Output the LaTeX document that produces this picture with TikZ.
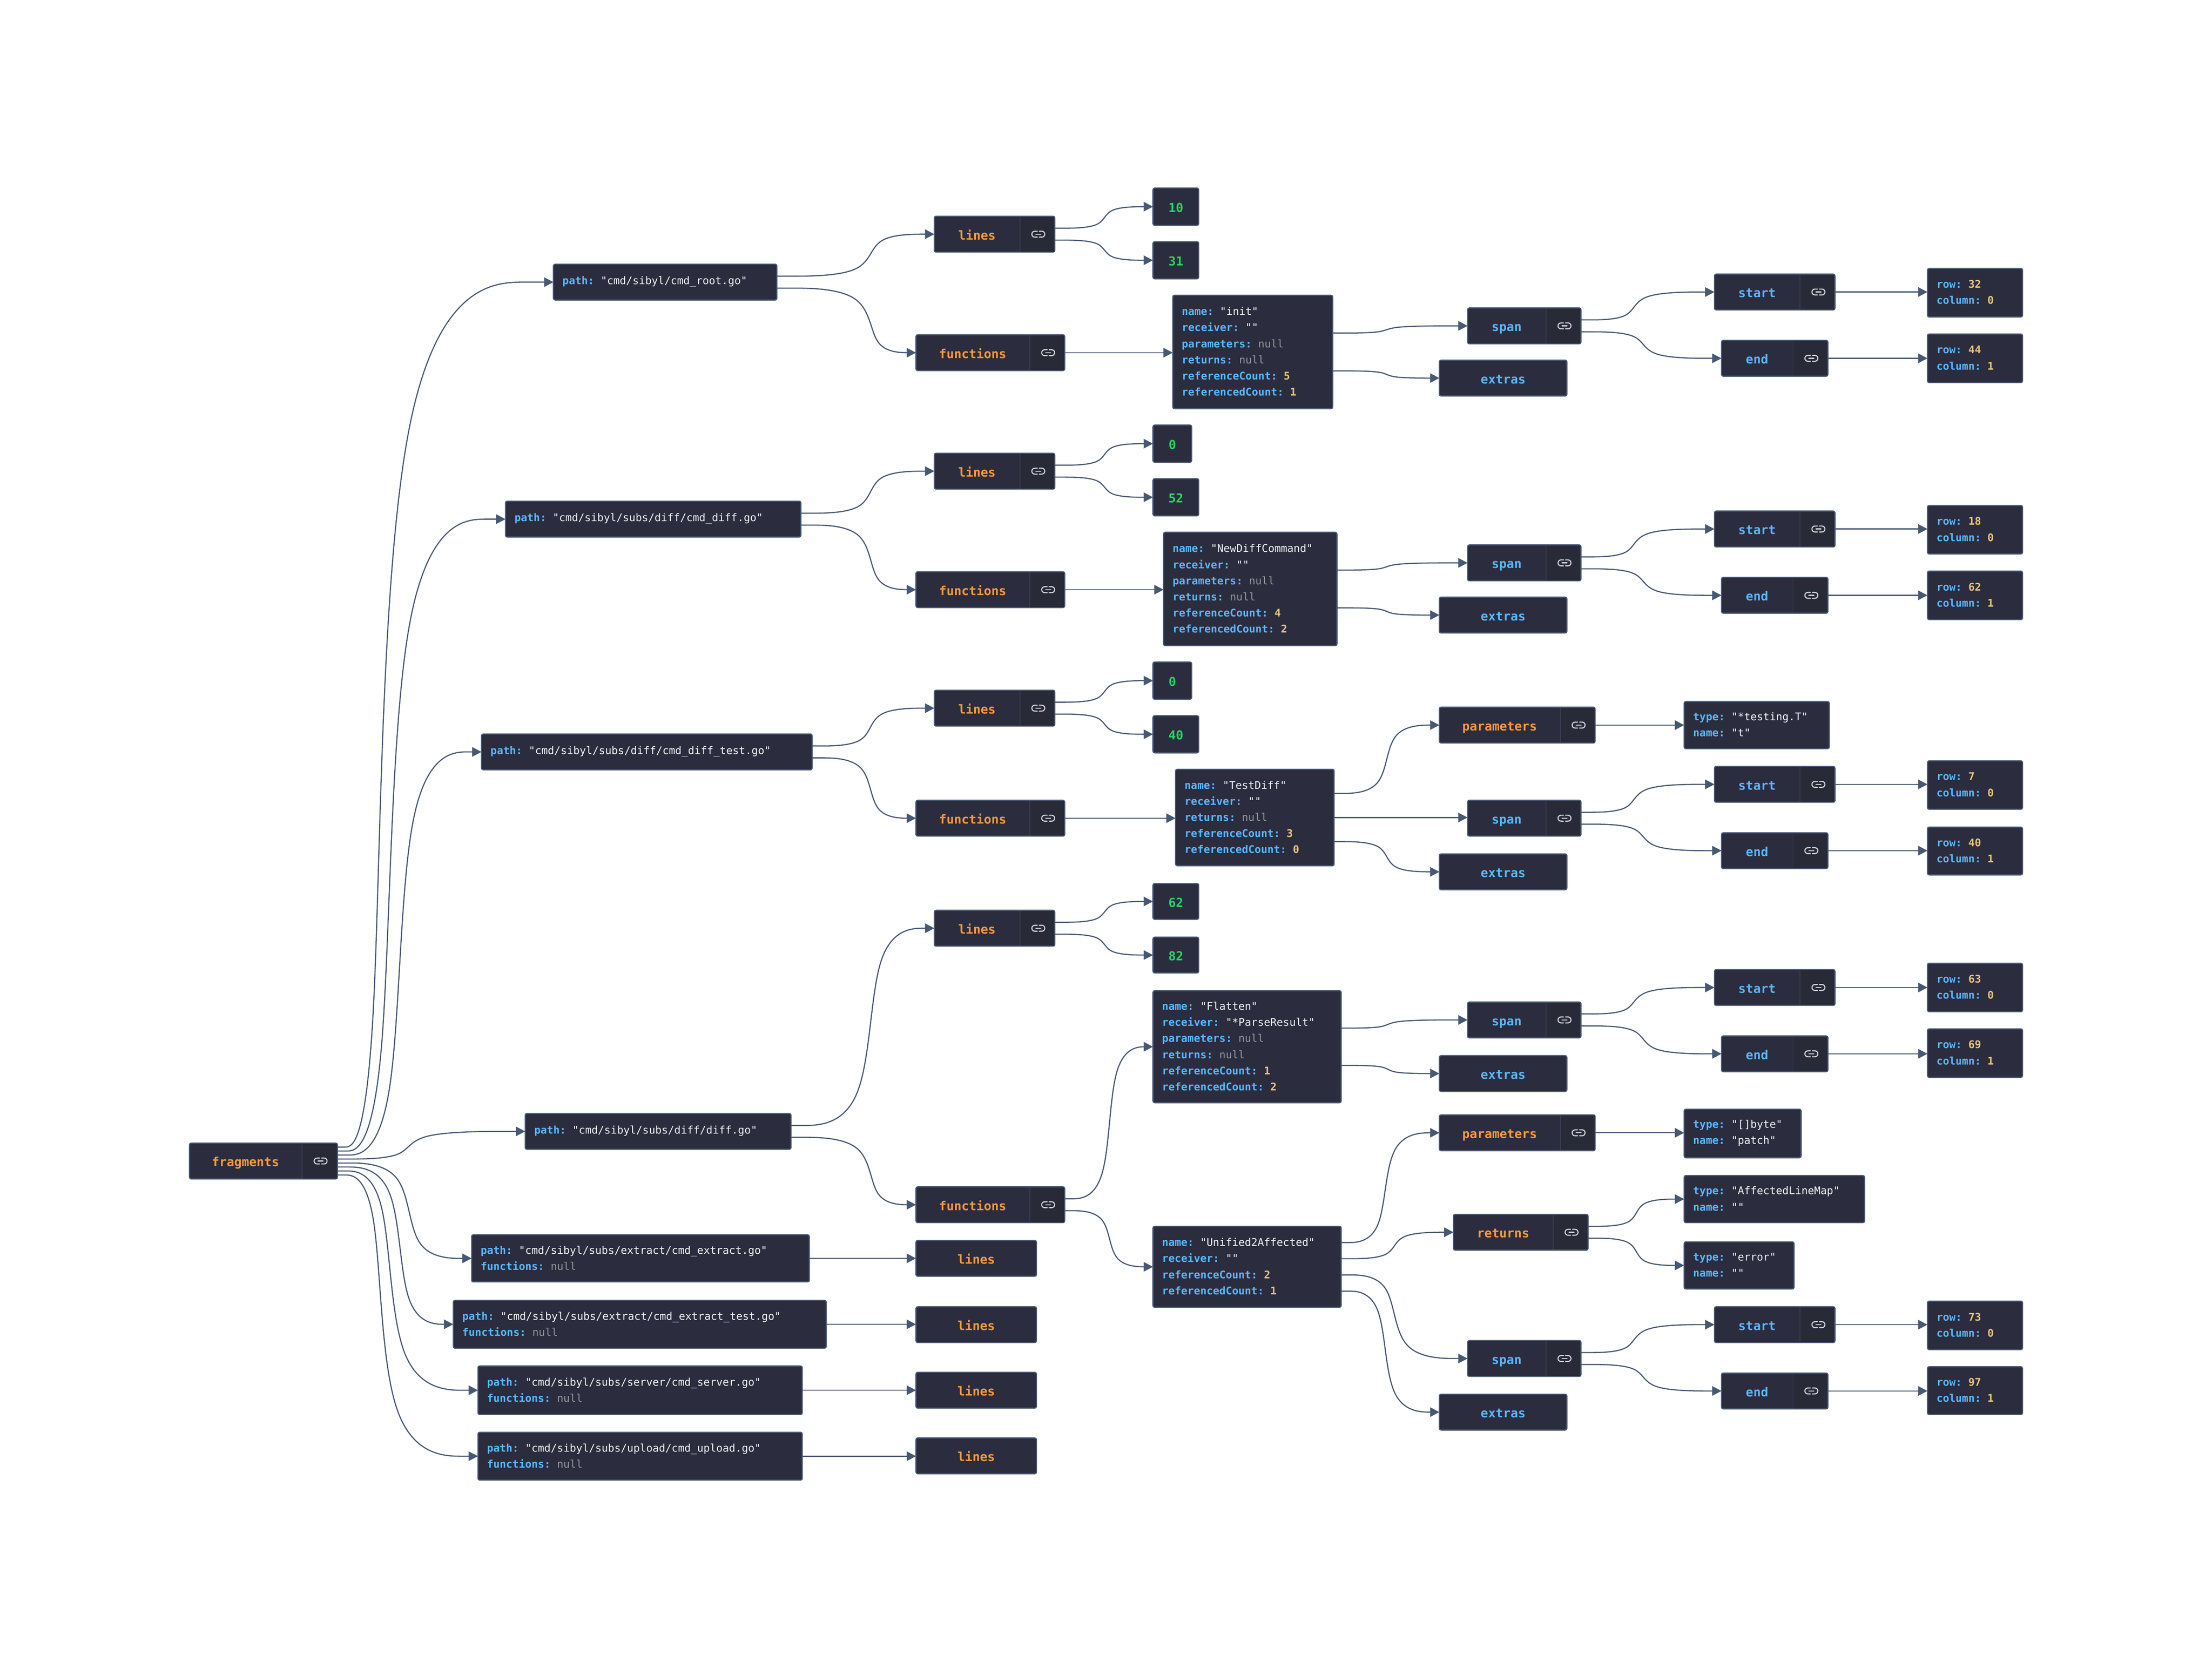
\documentclass[tikz,border=0pt]{standalone}
\usepackage{fontspec}
\setmonofont{DejaVu Sans Mono}
\usetikzlibrary{arrows.meta,calc}
\definecolor{nodefill}{HTML}{2B2C3E}
\definecolor{linkfill}{HTML}{292A38}
\definecolor{divcol}{HTML}{3A3C4E}
\definecolor{bordercol}{HTML}{475872}
\definecolor{edgecol}{HTML}{475872}
\definecolor{keycol}{HTML}{59B8FF}
\definecolor{orangecol}{HTML}{FA9A3A}
\definecolor{strcol}{HTML}{F2F2F2}
\definecolor{nullcol}{HTML}{939598}
\definecolor{numcol}{HTML}{E8C479}
\definecolor{greencol}{HTML}{22D65F}
\definecolor{iconcol}{HTML}{D4D4D8}
\tikzset{
  nodebox/.style={draw=bordercol,fill=nodefill,line width=.8pt,rounded corners=1.2pt,inner sep=0pt,outer sep=0pt},
  edgeline/.style={draw=edgecol,line width=.8pt,-{Triangle[length=6.6pt,width=6.7pt]}},
  bigtext/.style={font=\ttfamily\fontsize{8.8}{11.4}\selectfont\bfseries,inner sep=0pt},
  smalltext/.style={font=\ttfamily\fontsize{7.5}{11.4}\selectfont,align=left,inner sep=0pt,anchor=west},
  iconline/.style={draw=iconcol,line width=.75pt,line cap=round},
}
\newcommand{\K}[1]{\textcolor{keycol}{\bfseries #1}}
\newcommand{\Sv}[1]{\textcolor{strcol}{#1}}
\newcommand{\Nl}{\textcolor{nullcol}{null}}
\newcommand{\Nm}[1]{\textcolor{numcol}{\bfseries #1}}
\newcommand{\bx}[5]{%
  \pgfmathsetmacro\bxW{#4-#2-.6}\pgfmathsetmacro\bxH{#5-#3-.6}%
  \pgfmathsetmacro\bxX{(#2+#4)/2}\pgfmathsetmacro\bxY{(#3+#5)/2}%
  \node[nodebox,minimum width=\bxW pt,minimum height=\bxH pt] (#1) at (\bxX,\bxY) {};}
% text box: name x0 y0 x1 y1 multi-line text
\newcommand{\tb}[6]{%
  \bx{#1}{#2}{#3}{#4}{#5}%
  \pgfmathsetmacro\tbX{#2+6.5}\pgfmathsetmacro\tbY{(#3+#5)/2-0.3}%
  \node[smalltext] (#1t) at (\tbX,\tbY) {#6};}
% label box with link section: name x0 y0 x1 y1 xdiv text colour
\newcommand{\lb}[8]{%
  \bx{#1}{#2}{#3}{#4}{#5}%
  \fill[linkfill] (#6,#3+.7) rectangle (#4-.7,#5-.7);
  \draw[divcol,line width=.5pt] (#6,#3+.7) -- (#6,#5-.7);
  \pgfmathsetmacro\lbX{(#2+#6)/2}\pgfmathsetmacro\lbY{(#3+#5)/2+1.6}%
  \node[bigtext,text=#8] (#1t) at (\lbX,\lbY) {\strut #7};
  \pgfmathsetmacro\icX{(#6+#4)/2+.5}\pgfmathsetmacro\icY{(#3+#5)/2}%
  \begin{scope}[shift={(\icX,\icY)}]
    \draw[iconline] (-.7,2.1) -- (-2.5,2.1) arc[start angle=90,end angle=270,radius=2.1] -- (-.7,-2.1);
    \draw[iconline] (.7,2.1) -- (2.5,2.1) arc[start angle=90,end angle=-90,radius=2.1] -- (.7,-2.1);
    \draw[iconline] (-1.8,0) -- (1.8,0);
  \end{scope}}
% plain box with a centred label: name x0 y0 x1 y1 text colour
\newcommand{\pb}[7]{%
  \bx{#1}{#2}{#3}{#4}{#5}%
  \pgfmathsetmacro\lbX{(#2+#4)/2}\pgfmathsetmacro\lbY{(#3+#5)/2+1.6}%
  \node[bigtext,text=#7] (#1t) at (\lbX,\lbY) {\strut #6};}
% connector (basis spline through a bend column): bend x, from, i, n, to
\newcommand{\conn}[5]{%
  \draw[edgeline] let \p1=($(#2.north east)!{#3/(#4+1)}!(#2.south east)$), \p2=(#5.west) in
    (\p1) -- ({(5*\x1+#1pt)/6},\y1)
    .. controls ({(2*\x1+#1pt)/3},\y1) and ({(\x1+2*#1pt)/3},\y1) .. ({(\x1+5*#1pt)/6},{(5*\y1+\y2)/6})
    .. controls (#1pt,{(2*\y1+\y2)/3}) and (#1pt,{(\y1+2*\y2)/3}) .. ({(5*#1pt+\x2)/6},{(\y1+5*\y2)/6})
    .. controls ({(2*#1pt+\x2)/3},\y2) and ({(#1pt+2*\x2)/3},\y2) .. ({(#1pt+5*\x2)/6},\y2) -- (\p2);}
\newcommand{\straight}[2]{%
  \draw[edgeline] (#1.east) -- (#1.east -| #2.west);}
\begin{document}
\begin{tikzpicture}[x=1pt,y=-1pt]
\useasboundingbox[fill=white] (0,0) rectangle (1568,1182.8);

\lb{frag}{134}{810}{239.5}{836}{214}{fragments}{orangecol}

% ---------- row 1
\tb{pa}{392}{187}{551}{213}{\K{path:} \Sv{"cmd/sibyl/cmd\_root.go"}}
\lb{la}{662}{153}{748}{179}{723}{lines}{orangecol}
\pb{la1}{817}{133}{850}{160}{10}{greencol}
\pb{la2}{817}{171}{850}{198}{31}{greencol}
\lb{fa}{649}{237}{755}{263}{730}{functions}{orangecol}
\tb{oa}{831}{209}{945}{290}{\K{name:} \Sv{"init"}\\\K{receiver:} \Sv{""}\\\K{parameters:} \Nl\\\K{returns:} \Nl\\\K{referenceCount:} \Nm{5}\\\K{referencedCount:} \Nm{1}}
\lb{sa}{1040}{218}{1121}{244}{1096}{span}{keycol}
\pb{ea}{1020}{255}{1111}{281}{extras}{keycol}
\lb{sta}{1215}{194}{1301}{220}{1276}{start}{keycol}
\lb{ena}{1220}{241}{1296}{267}{1271}{end}{keycol}
\tb{ra}{1366}{190}{1434}{225}{\K{row:} \Nm{32}\\\K{column:} \Nm{0}}
\tb{rb}{1366}{236.5}{1434}{271.5}{\K{row:} \Nm{44}\\\K{column:} \Nm{1}}

% ---------- row 2
\tb{pb}{358}{355}{568}{381}{\K{path:} \Sv{"cmd/sibyl/subs/diff/cmd\_diff.go"}}
\lb{lb}{662}{321}{748}{347}{723}{lines}{orangecol}
\pb{lb1}{817}{301}{845}{328}{0}{greencol}
\pb{lb2}{817}{339}{850}{366}{52}{greencol}
\lb{fb}{649}{405}{755}{431}{730}{functions}{orangecol}
\tb{ob}{824.5}{377}{948}{458}{\K{name:} \Sv{"NewDiffCommand"}\\\K{receiver:} \Sv{""}\\\K{parameters:} \Nl\\\K{returns:} \Nl\\\K{referenceCount:} \Nm{4}\\\K{referencedCount:} \Nm{2}}
\lb{sb}{1040}{386}{1121}{412}{1096}{span}{keycol}
\pb{eb}{1020}{423}{1111}{449}{extras}{keycol}
\lb{stb}{1215}{362}{1301}{388}{1276}{start}{keycol}
\lb{enb}{1220}{409}{1296}{435}{1271}{end}{keycol}
\tb{rc}{1366}{358}{1434}{393}{\K{row:} \Nm{18}\\\K{column:} \Nm{0}}
\tb{rd}{1366}{404.5}{1434}{439.5}{\K{row:} \Nm{62}\\\K{column:} \Nm{1}}

% ---------- row 3
\tb{pc}{341}{520}{576}{546}{\K{path:} \Sv{"cmd/sibyl/subs/diff/cmd\_diff\_test.go"}}
\lb{lc}{662}{489}{748}{515}{723}{lines}{orangecol}
\pb{lc1}{817}{469}{845}{496}{0}{greencol}
\pb{lc2}{817}{507}{850}{534}{40}{greencol}
\lb{fc}{649}{567}{755}{593}{730}{functions}{orangecol}
\tb{oc}{833}{545}{946}{614}{\K{name:} \Sv{"TestDiff"}\\\K{receiver:} \Sv{""}\\\K{returns:} \Nl\\\K{referenceCount:} \Nm{3}\\\K{referencedCount:} \Nm{0}}
\lb{qc}{1020}{501}{1131}{527}{1106}{parameters}{orangecol}
\tb{tc}{1193.5}{497}{1297}{531}{\K{type:} \Sv{"*testing.T"}\\\K{name:} \Sv{"t"}}
\lb{sc}{1040}{567}{1121}{593}{1096}{span}{keycol}
\pb{ec}{1020}{605}{1111}{631}{extras}{keycol}
\lb{stc}{1215}{543}{1301}{569}{1276}{start}{keycol}
\lb{enc}{1220}{590}{1296}{616}{1271}{end}{keycol}
\tb{re}{1366}{539}{1434}{574}{\K{row:} \Nm{7}\\\K{column:} \Nm{0}}
\tb{rf}{1366}{586}{1434}{620.5}{\K{row:} \Nm{40}\\\K{column:} \Nm{1}}

% ---------- row 4
\tb{pd}{372}{789}{561}{815}{\K{path:} \Sv{"cmd/sibyl/subs/diff/diff.go"}}
\lb{ld}{662}{645}{748}{671}{723}{lines}{orangecol}
\pb{ld1}{817}{626}{850}{652}{62}{greencol}
\pb{ld2}{817}{664}{850}{690}{82}{greencol}
\lb{fd}{649}{841}{755}{867}{730}{functions}{orangecol}
\tb{od}{817}{702}{951}{782}{\K{name:} \Sv{"Flatten"}\\\K{receiver:} \Sv{"*ParseResult"}\\\K{parameters:} \Nl\\\K{returns:} \Nl\\\K{referenceCount:} \Nm{1}\\\K{referencedCount:} \Nm{2}}
\lb{sd}{1040}{710}{1121}{736}{1096}{span}{keycol}
\pb{ed}{1020}{748}{1111}{774}{extras}{keycol}
\lb{std}{1215}{687}{1301}{713}{1276}{start}{keycol}
\lb{end}{1220}{734}{1296}{760}{1271}{end}{keycol}
\tb{rg}{1366}{682.5}{1434}{717.5}{\K{row:} \Nm{63}\\\K{column:} \Nm{0}}
\tb{rh}{1366}{729}{1434}{764}{\K{row:} \Nm{69}\\\K{column:} \Nm{1}}

\tb{ou}{817}{869}{951}{927}{\K{name:} \Sv{"Unified2Affected"}\\\K{receiver:} \Sv{""}\\\K{referenceCount:} \Nm{2}\\\K{referencedCount:} \Nm{1}}
\lb{qu}{1020}{790}{1131}{816}{1106}{parameters}{orangecol}
\tb{tu}{1193.5}{786}{1277}{821}{\K{type:} \Sv{"{[}{]}byte"}\\\K{name:} \Sv{"patch"}}
\lb{ru}{1030}{860.5}{1126}{886.5}{1101}{returns}{orangecol}
\tb{tv}{1193.5}{833}{1322}{867}{\K{type:} \Sv{"AffectedLineMap"}\\\K{name:} \Sv{""}}
\tb{tw}{1193.5}{880}{1272}{914}{\K{type:} \Sv{"error"}\\\K{name:} \Sv{""}}
\lb{su}{1040}{950}{1121}{976}{1096}{span}{keycol}
\pb{eu}{1020}{988}{1111}{1014}{extras}{keycol}
\lb{stu}{1215}{926}{1301}{952}{1276}{start}{keycol}
\lb{enu}{1220}{973}{1296}{999}{1271}{end}{keycol}
\tb{ri}{1366}{922}{1434}{957}{\K{row:} \Nm{73}\\\K{column:} \Nm{0}}
\tb{rj}{1366}{968.5}{1434}{1003}{\K{row:} \Nm{97}\\\K{column:} \Nm{1}}

% ---------- bottom files
\tb{pe}{334}{875}{574}{909}{\K{path:} \Sv{"cmd/sibyl/subs/extract/cmd\_extract.go"}\\\K{functions:} \Nl}
\pb{le}{649}{879}{735}{905}{lines}{orangecol}
\tb{pf}{321}{921.5}{586}{956}{\K{path:} \Sv{"cmd/sibyl/subs/extract/cmd\_extract\_test.go"}\\\K{functions:} \Nl}
\pb{lf}{649}{926}{735}{952}{lines}{orangecol}
\tb{pg}{338.5}{968}{569}{1003}{\K{path:} \Sv{"cmd/sibyl/subs/server/cmd\_server.go"}\\\K{functions:} \Nl}
\pb{lg}{649}{972.5}{735}{998.5}{lines}{orangecol}
\tb{ph}{338.5}{1015}{569}{1049.5}{\K{path:} \Sv{"cmd/sibyl/subs/upload/cmd\_upload.go"}\\\K{functions:} \Nl}
\pb{lh}{649}{1019}{735}{1045}{lines}{orangecol}

% ---------- connectors
\conn{270}{frag}{1}{8}{pa}
\conn{276.7}{frag}{2}{8}{pb}
\conn{283.5}{frag}{3}{8}{pc}
\conn{290}{frag}{4}{8}{pd}
\conn{290}{frag}{5}{8}{pe}
\conn{283.5}{frag}{6}{8}{pf}
\conn{276.7}{frag}{7}{8}{pg}
\conn{270}{frag}{8}{8}{ph}

\conn{617}{pa}{1}{2}{la}\conn{617}{pa}{2}{2}{fa}
\conn{783}{la}{1}{2}{la1}\conn{783}{la}{2}{2}{la2}
\straight{fa}{oa}
\conn{983}{oa}{1}{2}{sa}\conn{983}{oa}{2}{2}{ea}
\conn{1158.5}{sa}{1}{2}{sta}\conn{1165}{sa}{2}{2}{ena}
\straight{sta}{ra}\straight{ena}{rb}

\conn{617}{pb}{1}{2}{lb}\conn{617}{pb}{2}{2}{fb}
\conn{783}{lb}{1}{2}{lb1}\conn{783}{lb}{2}{2}{lb2}
\straight{fb}{ob}
\conn{983}{ob}{1}{2}{sb}\conn{983}{ob}{2}{2}{eb}
\conn{1158.5}{sb}{1}{2}{stb}\conn{1165}{sb}{2}{2}{enb}
\straight{stb}{rc}\straight{enb}{rd}

\conn{617}{pc}{1}{2}{lc}\conn{617}{pc}{2}{2}{fc}
\conn{783}{lc}{1}{2}{lc1}\conn{783}{lc}{2}{2}{lc2}
\straight{fc}{oc}
\conn{983}{oc}{1}{3}{qc}\straight{oc}{sc}\conn{983}{oc}{3}{3}{ec}
\straight{qc}{tc}
\conn{1158.5}{sc}{1}{2}{stc}\conn{1165}{sc}{2}{2}{enc}
\straight{stc}{re}\straight{enc}{rf}

\conn{617}{pd}{1}{2}{ld}\conn{617}{pd}{2}{2}{fd}
\conn{783}{ld}{1}{2}{ld1}\conn{783}{ld}{2}{2}{ld2}
\conn{786.5}{fd}{1}{2}{od}\conn{786.5}{fd}{2}{2}{ou}
\conn{984}{od}{1}{2}{sd}\conn{984}{od}{2}{2}{ed}
\conn{1158.5}{sd}{1}{2}{std}\conn{1165}{sd}{2}{2}{end}
\straight{std}{rg}\straight{end}{rh}

\conn{982}{ou}{1}{4}{qu}\conn{988.5}{ou}{2}{4}{ru}\conn{988.5}{ou}{3}{4}{su}\conn{982}{ou}{4}{4}{eu}
\straight{qu}{tu}
\conn{1160}{ru}{1}{2}{tv}\conn{1160}{ru}{2}{2}{tw}
\conn{1158.5}{su}{1}{2}{stu}\conn{1165}{su}{2}{2}{enu}
\straight{stu}{ri}\straight{enu}{rj}

\straight{pe}{le}\straight{pf}{lf}\straight{pg}{lg}\straight{ph}{lh}
\end{tikzpicture}
\end{document}
